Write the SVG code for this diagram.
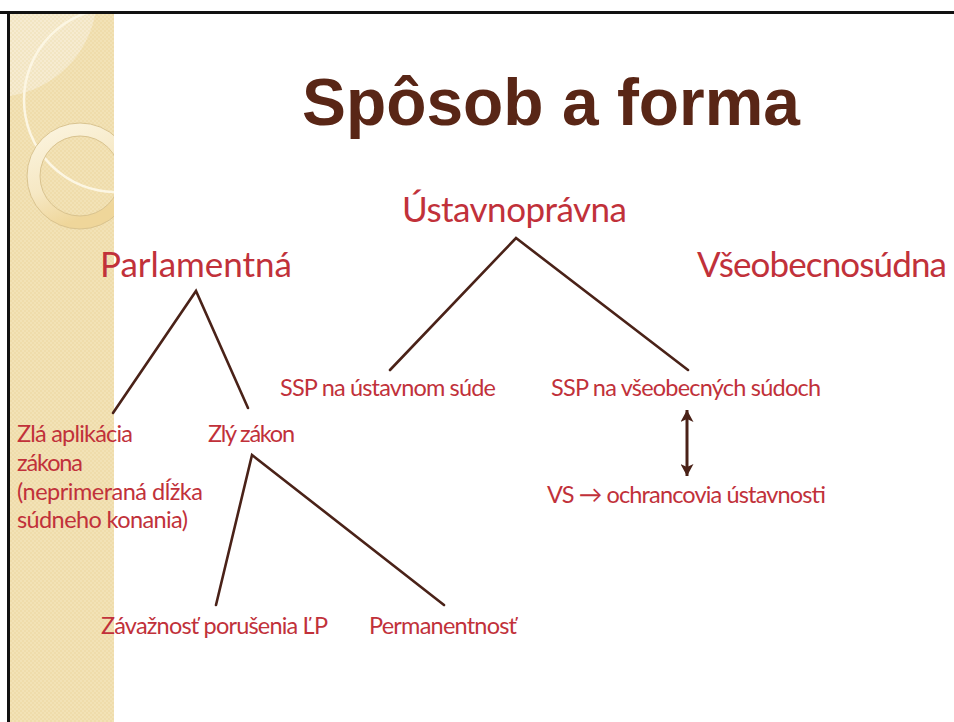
<svg xmlns="http://www.w3.org/2000/svg" width="954" height="722" viewBox="0 0 954 722">
  <defs>
    <clipPath id="strip">
      <rect x="10" y="14" width="104" height="708"/>
    </clipPath>
    <pattern id="tex" x="0" y="0" width="4" height="4" patternUnits="userSpaceOnUse">
      <rect width="4" height="4" fill="#efdcab"/>
      <rect width="2" height="2" fill="#f2e2b6"/>
      <rect x="2" y="2" width="2" height="2" fill="#f2e2b6"/>
    </pattern>
    <pattern id="tex2" x="0" y="0" width="4" height="4" patternUnits="userSpaceOnUse">
      <rect width="4" height="4" fill="#f2e5c2"/>
      <rect width="2" height="2" fill="#f6ebd0"/>
      <rect x="2" y="2" width="2" height="2" fill="#f6ebd0"/>
    </pattern>
    <linearGradient id="ringGrad" x1="0" y1="0" x2="0.4" y2="1">
      <stop offset="0" stop-color="#fbf4df"/>
      <stop offset="0.6" stop-color="#f6e8c4"/>
      <stop offset="1" stop-color="#efd69a"/>
    </linearGradient>
    <marker id="arr" viewBox="0 0 12 13" refX="12" refY="6.5" markerWidth="12" markerHeight="13" markerUnits="userSpaceOnUse" orient="auto-start-reverse">
      <path d="M0,0 L12,6.5 L0,13 L3,6.5 Z" fill="#4a2218"/>
    </marker>
    <style>
      .lbl { font-family: Lato, "Open Sans", "DejaVu Sans", sans-serif; fill: #c1313a; }
      .big { font-size: 35px; }
      .sm { font-size: 23.5px; }
      .ttl { font-family: "Liberation Sans", Arial, sans-serif; font-weight: bold; font-size: 66px; fill: #592616; }
      .edge { stroke: #4a2218; stroke-width: 2.6; fill: none; stroke-linecap: round; }
    </style>
  </defs>

  <rect width="954" height="722" fill="#ffffff"/>

  <g id="background">
    <rect x="10" y="14" width="104" height="708" fill="url(#tex)"/>
    <g clip-path="url(#strip)">
      <circle cx="-5" cy="-5" r="102" fill="url(#tex2)"/>
      <circle cx="116" cy="100" r="92" fill="none" stroke="#fcf6e3" stroke-width="2.5"/>
      <circle cx="80" cy="176" r="46.5" fill="none" stroke="url(#ringGrad)" stroke-width="13"/>
      <circle cx="80" cy="176" r="53" fill="none" stroke="#d9c38f" stroke-width="1"/>
      <circle cx="80" cy="176" r="40" fill="none" stroke="#d9c38f" stroke-width="1"/>
    </g>
    <line x1="0" y1="12.5" x2="954" y2="12.5" stroke="#111" stroke-width="3"/>
    <line x1="8.5" y1="11" x2="8.5" y2="722" stroke="#111" stroke-width="3"/>
  </g>

  <g id="title">
    <text class="ttl" x="302" y="125" textLength="498" lengthAdjust="spacingAndGlyphs">Spôsob a forma</text>
  </g>

  <g id="connectors">
    <polyline class="edge" points="390,370 516,238 688,370"/>
    <polyline class="edge" points="113,413 196,291 248,408"/>
    <polyline class="edge" points="216,605 252,455 444,605"/>
    <line x1="687" y1="410" x2="687" y2="476" stroke="#4a2218" stroke-width="3" marker-start="url(#arr)" marker-end="url(#arr)"/>
  </g>

  <g id="n-ustavnopravna">
    <text class="lbl big" x="402" y="222" textLength="225" lengthAdjust="spacing">Ústavnoprávna</text>
  </g>
  <g id="n-parlamentna">
    <text class="lbl big" x="100" y="277" textLength="192" lengthAdjust="spacing">Parlamentná</text>
  </g>
  <g id="n-vseobecnosudna">
    <text class="lbl big" x="697" y="277" textLength="250" lengthAdjust="spacing">Všeobecnosúdna</text>
  </g>
  <g id="n-ssp-us">
    <text class="lbl sm" x="280" y="396" textLength="216" lengthAdjust="spacing">SSP na ústavnom súde</text>
  </g>
  <g id="n-ssp-vs">
    <text class="lbl sm" x="551" y="396" textLength="270" lengthAdjust="spacing">SSP na všeobecných súdoch</text>
  </g>
  <g id="n-zla-aplikacia">
    <text class="lbl sm" x="17" y="442" textLength="116" lengthAdjust="spacing">Zlá aplikácia</text>
    <text class="lbl sm" x="17" y="471" textLength="66" lengthAdjust="spacing">zákona</text>
    <text class="lbl sm" x="17" y="500" textLength="186" lengthAdjust="spacing">(neprimeraná dĺžka</text>
    <text class="lbl sm" x="17" y="528" textLength="171" lengthAdjust="spacing">súdneho konania)</text>
  </g>
  <g id="n-zly-zakon">
    <text class="lbl sm" x="208" y="442" textLength="87" lengthAdjust="spacing">Zlý zákon</text>
  </g>
  <g id="n-vs">
    <text class="lbl sm" x="547" y="503" textLength="279" lengthAdjust="spacing">VS → ochrancovia ústavnosti</text>
  </g>
  <g id="n-zavaznost">
    <text class="lbl sm" x="101" y="634" textLength="227" lengthAdjust="spacing">Závažnosť porušenia ĽP</text>
  </g>
  <g id="n-permanentnost">
    <text class="lbl sm" x="369" y="634" textLength="148" lengthAdjust="spacing">Permanentnosť</text>
  </g>
</svg>
